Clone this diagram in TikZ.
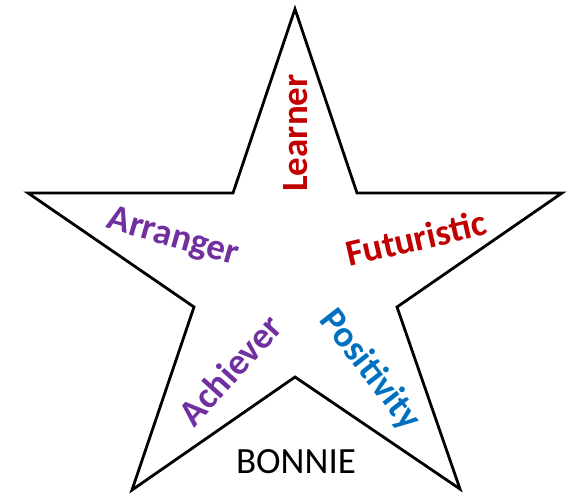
\documentclass[tikz,border=0pt]{standalone}
\usepackage{fontspec}
\setmainfont{Carlito}
\definecolor{dred}{HTML}{C00000}
\definecolor{purp}{HTML}{7030A0}
\definecolor{blu}{HTML}{0070C0}
\begin{document}
\begin{tikzpicture}[x=1pt,y=-1pt,
  word/.style={font=\fontsize{37}{40}\selectfont\bfseries, inner sep=0pt},
  starline/.style={draw=black, line width=2.8pt, line join=miter}]
\useasboundingbox (0,0) rectangle (575,495);
\draw[starline] (295,9) -- (357,193) -- (562,193) -- (397,307) -- (460,489)
  -- (295,377) -- (132,490) -- (194,307) -- (28,193) -- (233,193) -- cycle;
\node[word, text=dred, rotate=90] (learner) at (296,133) {Learner};
\node[word, text=purp, rotate=-16] (arranger) at (173,238) {Arranger};
\node[word, text=dred, rotate=13] (futur) at (416,238) {Futuristic};
\node[word, text=purp, rotate=48] (achiever) at (230,370) {Achiever};
\node[word, text=blu, rotate=-52] (posit) at (370,370) {Positivity};
\node[font=\fontsize{37}{40}\selectfont, inner sep=0pt] (bonnie) at (296,462) {BONNIE};
\end{tikzpicture}
\end{document}
